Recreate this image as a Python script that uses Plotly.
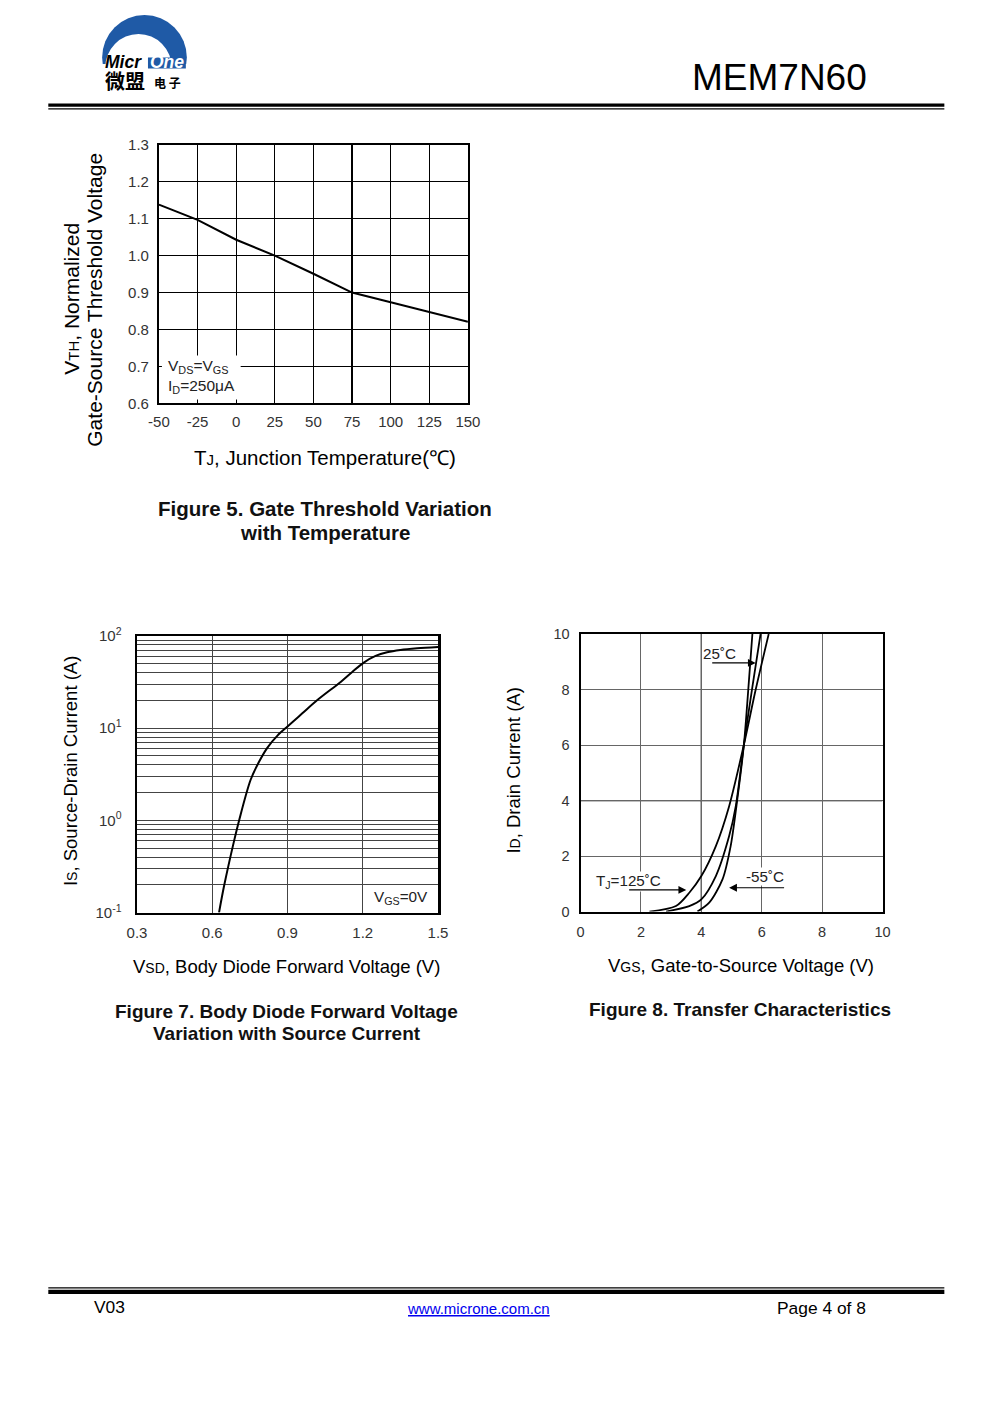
import plotly.graph_objects as go

# canvas size
W, H = 991, 1403
# measured placement of the canvas in the photograph: photo = OFF + SCALE * canvas
OFF_X, SCALE_X = 17.6, 0.979
OFF_Y, SCALE_Y = 18.0, 0.988

# ---------------- data ----------------
# Figure 5: normalized gate threshold voltage vs junction temperature
fig5_temp = [-50, -25, 0, 25, 50, 75, 100, 125, 150]
fig5_vth = [1.138, 1.097, 1.043, 1.000, 0.951, 0.900, 0.874, 0.847, 0.821]
fig5_xticks = [-50, -25, 0, 25, 50, 75, 100, 125, 150]
fig5_xlabels = ["-50", "-25", "0", "25", "50", "75", "100", "125", "150"]
fig5_yticks = [0.6, 0.7, 0.8, 0.9, 1.0, 1.1, 1.2, 1.3]

# Figure 7: body diode forward voltage vs source current
fig7_vsd = [0.627, 0.647, 0.687, 0.707, 0.753, 0.787, 0.820, 0.860, 0.899, 0.959,
            1.019, 1.112, 1.158, 1.204, 1.251, 1.297, 1.350, 1.417, 1.50]
fig7_is = [0.1, 0.194, 0.60, 1.0, 2.76, 4.35, 6.17, 8.31, 10.4, 14.5,
           20.2, 31.8, 40.8, 51.5, 60.8, 66.6, 70.6, 73.6, 76.0]
fig7_xticks = [0.3, 0.6, 0.9, 1.2, 1.5]
fig7_ygrid = [0.1, 0.2, 0.3, 0.4, 0.5, 0.6, 0.7, 0.8, 0.9,
              1, 2, 3, 4, 5, 6, 7, 8, 9,
              10, 20, 30, 40, 50, 60, 70, 80, 90, 100]
fig7_ylabels = {0.1: "10<sup>-1</sup>", 1: "10<sup>0</sup>", 10: "10<sup>1</sup>", 100: "10<sup>2</sup>"}

# Figure 8: transfer characteristics
fig8_vgs_125 = [2.28, 3.16, 3.6, 4.0, 4.48, 4.92, 5.41, 5.8, 6.23]
fig8_id_125 = [0.0, 0.2, 0.68, 1.28, 2.36, 3.8, 6.02, 8.0, 10.0]
fig8_vgs_25 = [2.83, 3.6, 4.0, 4.48, 4.92, 5.14, 5.41, 5.69, 5.96]
fig8_id_25 = [0.0, 0.2, 0.44, 1.28, 2.72, 3.8, 6.02, 8.1, 10.0]
fig8_vgs_m55 = [3.87, 4.26, 4.7, 4.97, 5.19, 5.41, 5.52, 5.69]
fig8_id_m55 = [0.0, 0.32, 1.16, 2.36, 4.04, 6.02, 7.5, 10.0]
fig8_xticks = [0, 2, 4, 6, 8, 10]
fig8_yticks = [0, 2, 4, 6, 8, 10]

FONT = "Liberation Sans, Arial, sans-serif"
CJK = "Noto Sans CJK SC"


def px(x):
    return ((x - OFF_X) / SCALE_X) / W


def py(y):
    return 1 - ((y - OFF_Y) / SCALE_Y) / H


fig = go.Figure()

fig.add_trace(go.Scatter(x=fig5_temp, y=fig5_vth, mode="lines",
                         line=dict(color="black", width=2), xaxis="x", yaxis="y",
                         showlegend=False, hoverinfo="skip"))
fig.add_trace(go.Scatter(x=fig7_vsd, y=fig7_is, mode="lines",
                         line=dict(color="black", width=2, shape="spline", smoothing=0.9),
                         xaxis="x2", yaxis="y2", showlegend=False, hoverinfo="skip"))
for xs, ys in [(fig8_vgs_125, fig8_id_125), (fig8_vgs_25, fig8_id_25), (fig8_vgs_m55, fig8_id_m55)]:
    fig.add_trace(go.Scatter(x=xs, y=ys, mode="lines",
                             line=dict(color="black", width=1.8, shape="spline", smoothing=0.8),
                             xaxis="x3", yaxis="y3", showlegend=False, hoverinfo="skip"))


def tf(size):
    return dict(family=FONT, size=size, color="#333")


axis_common = dict(showline=True, mirror=True, linecolor="black", ticks="",
                   zeroline=False, fixedrange=True)

fig.update_layout(
    width=W, height=H, margin=dict(l=0, r=0, t=0, b=0),
    paper_bgcolor="white", plot_bgcolor="white",
    font=dict(family=FONT, color="black"),
    xaxis=dict(domain=[px(158), px(468)], range=[-50, 150], tickvals=fig5_xticks,
               ticktext=fig5_xlabels, tickfont=tf(15),
               gridcolor="black", gridwidth=1.2, linewidth=2, anchor="y",
               ticklabelstandoff=4, **axis_common),
    yaxis=dict(domain=[py(403), py(144)], range=[0.6, 1.3], tickvals=fig5_yticks,
               tickformat=".1f", tickfont=tf(15), gridcolor="black", gridwidth=1.2, linewidth=2,
               anchor="x", ticklabelstandoff=5, **axis_common),
    xaxis2=dict(domain=[px(136), px(438)], range=[0.3, 1.5], tickvals=fig7_xticks,
                tickformat=".1f", tickfont=tf(15), gridcolor="#444", gridwidth=1, linewidth=2.5,
                anchor="y2", ticklabelstandoff=5, **axis_common),
    yaxis2=dict(domain=[py(913), py(636)], type="log", range=[-1, 2],
                tickvals=fig7_ygrid,
                ticktext=[fig7_ylabels.get(v, "") for v in fig7_ygrid],
                tickfont=tf(15), gridcolor="#444", gridwidth=1, linewidth=2.5, anchor="x2",
                ticklabelstandoff=10, **axis_common),
    xaxis3=dict(domain=[px(581), px(884)], range=[0, 10], tickvals=fig8_xticks,
                tickfont=tf(14.5), gridcolor="#666", gridwidth=1, linewidth=2, anchor="y3",
                ticklabelstandoff=6, **axis_common),
    yaxis3=dict(domain=[py(912), py(634)], range=[0, 10], tickvals=fig8_yticks,
                tickfont=tf(14.5), gridcolor="#666", gridwidth=1, linewidth=2, anchor="x3",
                ticklabelstandoff=6, **axis_common),
)


def rect(x0, x1, y0, y1, color, layer="above"):
    return dict(type="rect", xref="paper", yref="paper", x0=px(x0), x1=px(x1),
                y0=py(y1), y1=py(y0), fillcolor=color, line_width=0, layer=layer)


def circ(x0, x1, y0, y1, color):
    return dict(type="circle", xref="paper", yref="paper", x0=px(x0), x1=px(x1),
                y0=py(y1), y1=py(y0), fillcolor=color, line_width=0)


BLUE = "#1f5aa6"
shapes = [
    # header double rule
    rect(47, 946, 102.7, 106, "black"),
    rect(47, 946, 107.4, 108.7, "black"),
    # footer double rule
    rect(47, 946, 1288.2, 1289.4, "black"),
    rect(47, 946, 1290.8, 1295, "black"),
    # logo: blue dome with white inner circle
    circ(101, 186, 14, 99, BLUE),
    rect(98, 190, 63, 102, "white"),
    circ(104, 171, 33, 101, "white"),
    rect(147, 185, 56.5, 67.5, BLUE),
    # Figure 5 legend box (white background over grid)
    rect(161, 240, 355, 399, "white"),
    # Figure 8 darker grid lines at x=4 and y=4
    dict(type="line", xref="x3", yref="y3", x0=4, x1=4, y0=0, y1=10,
         line=dict(color="black", width=1.3), layer="below"),
    dict(type="line", xref="x3", yref="y3", x0=0, x1=10, y0=4, y1=4,
         line=dict(color="black", width=1.3), layer="below"),
]
fig.update_layout(shapes=shapes)

ann = []


def text(x, y, s, size, xanchor="center", angle=0, family=FONT, color="black", bg=None):
    d = dict(xref="paper", yref="paper", x=px(x), y=py(y), text=s, showarrow=False,
             xanchor=xanchor, yanchor="middle", textangle=angle,
             font=dict(family=family, size=size, color=color))
    if bg:
        d["bgcolor"] = bg
        d["borderpad"] = 0
    ann.append(d)


# header
text(102, 61, "<b><i>Micr</i></b>", 17.5, xanchor="left")
text(147, 61, "<b><i>One</i></b>", 17.5, xanchor="left", color="white")
text(102, 79.5, "<b>微盟</b>", 20, xanchor="left", family=CJK)
text(151, 82, "<b>电 子</b>", 12, xanchor="left", family=CJK)
text(870, 77, "MEM7N60", 37, xanchor="right")

# Figure 5 texts
text(70, 298, "V<span style='font-size:15px'>TH</span>, Normalized", 21, angle=-90)
text(93, 299, "Gate-Source Threshold Voltage", 21, angle=-90)
text(325, 457, "T<span style='font-size:15px'>J</span>, Junction Temperature(℃)", 20.5)
text(165, 366, "V<sub>DS</sub>=V<sub>GS</sub>", 15.5, xanchor="left", color="#222")
text(165, 386, "I<sub>D</sub>=250μA", 15.5, xanchor="left", color="#222")
text(325, 508, "<b>Figure 5. Gate Threshold Variation</b>", 20.5, color="#111")
text(325, 532, "<b>with Temperature</b>", 20.5, color="#111")

# Figure 7 texts
text(70, 771, "I<span style='font-size:14px'>S</span>, Source-Drain Current (A)", 18.5, angle=-90)
text(286, 967, "V<span style='font-size:14px'>SD</span>, Body Diode Forward Voltage (V)", 18.5)
text(401, 898, "V<sub>GS</sub>=0V", 15.3, color="#222")
text(286, 1012, "<b>Figure 7. Body Diode Forward Voltage</b>", 19, color="#111")
text(286, 1034, "<b>Variation with Source Current</b>", 19, color="#111")

# Figure 8 texts
text(514, 771, "I<span style='font-size:14px'>D</span>, Drain Current (A)", 18.5, angle=-90)
text(742, 966, "V<span style='font-size:14px'>GS</span>, Gate-to-Source Voltage (V)", 18.5)
text(741, 1010, "<b>Figure 8. Transfer Characteristics</b>", 19, color="#111")
text(720, 653, "25˚C", 15.2, color="#222", bg="white")
text(629, 882, "T<sub>J</sub>=125˚C", 15.2, color="#222", bg="white")
text(766, 877, "-55˚C", 15.2, color="#222", bg="white")

# Figure 8 arrows (data coordinates)
for (x0, x1, yy) in [(4.31, 5.80, 8.96), (1.56, 3.50, 0.78), (6.79, 4.92, 0.86)]:
    ann.append(dict(xref="x3", yref="y3", axref="x3", ayref="y3", x=x1, y=yy, ax=x0, ay=yy,
                    text="", showarrow=True, arrowhead=2, arrowsize=1.3, arrowwidth=1.2,
                    arrowcolor="black"))

# footer
text(91, 1308, "V03", 17.4, xanchor="left")
text(479, 1310, "<u>www.microne.com.cn</u>", 15, color="#0000ee")
text(869, 1309, "Page 4 of 8", 17.4, xanchor="right")

fig.update_layout(annotations=ann)

fig.write_html("out.html", config={"displayModeBar": False, "staticPlot": True})
